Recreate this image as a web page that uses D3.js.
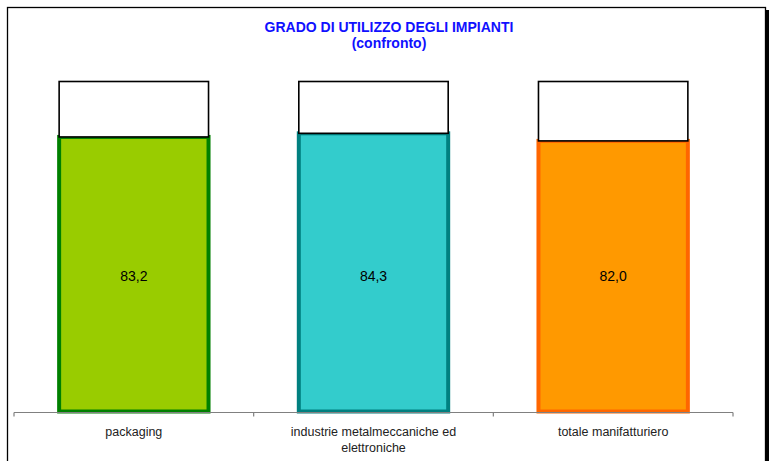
<!DOCTYPE html>
<html>
<head>
<meta charset="utf-8">
<script src="https://cdn.jsdelivr.net/npm/d3@7"></script>
<style>
  body { margin: 0; background: #fff; }
  svg { display: block; font-family: Arial, "Liberation Sans", sans-serif; }
</style>
</head>
<body>
<div class="main"></div>
<script>
// dati del grafico
var categories = ['packaging', 'industrie metalmeccaniche ed elettroniche', 'totale manifatturiero'];
var labelLines = [['packaging'], ['industrie metalmeccaniche ed', 'elettroniche'], ['totale manifatturiero']];
var values     = [83.2, 84.3, 82.0];
var fills      = ['#99CC00', '#33CCCC', '#FF9900'];
var borders    = ['#008000', '#008080', '#FF6600'];
var titleLines = ['GRADO DI UTILIZZO DEGLI IMPIANTI', '(confronto)'];

var width = 769, height = 461;

var svg = d3.select('.main')
            .append('svg')
                .attr('width', width)
                .attr('height', height);

// cornice esterna con ombra a destra
svg.append('rect')
    .attr('x', 766).attr('y', 10)
    .attr('width', 3).attr('height', height)
    .attr('fill', '#000');
svg.append('rect')
    .attr('x', 7.5).attr('y', 7.5)
    .attr('width', 758).attr('height', height)
    .attr('fill', '#fff')
    .attr('stroke', '#000')
    .attr('stroke-width', 1.3);

// scale
var x = d3.scaleBand().domain(categories).range([14, 733]).paddingInner(0.36).paddingOuter(0.18);
var y = d3.scaleLinear().domain([0, 100]).range([411.5, 81.5]);

// titolo
svg.append('g').selectAll('text')
    .data(titleLines)
    .enter().append('text')
        .attr('x', 389)
        .attr('y', (d, i) => 32 + i * 16)
        .attr('text-anchor', 'middle')
        .attr('font-size', 14)
        .attr('font-weight', 'bold')
        .attr('fill', '#1010FF')
        .text(d => d);

// barre colorate
var bars = svg.append('g');
bars.selectAll('rect.val')
    .data(values)
    .enter().append('rect')
        .attr('class', 'val')
        .attr('x', (d, i) => x(categories[i]) + 2)
        .attr('y', d => y(d))
        .attr('width', x.bandwidth() - 4)
        .attr('height', d => y(0) - y(d))
        .attr('fill', (d, i) => fills[i])
        .attr('stroke', (d, i) => borders[i])
        .attr('stroke-width', 4);

// parte restante fino a 100
bars.selectAll('rect.rest')
    .data(values)
    .enter().append('rect')
        .attr('class', 'rest')
        .attr('x', (d, i) => x(categories[i]) + 2)
        .attr('y', y(100))
        .attr('width', x.bandwidth() - 4)
        .attr('height', d => y(d) - y(100))
        .attr('fill', '#fff')
        .attr('stroke', '#000')
        .attr('stroke-width', 1.6);

// etichette dei valori (tutte alla stessa altezza)
var labelY = y(d3.min(values) / 2) + 5;
bars.selectAll('text')
    .data(values)
    .enter().append('text')
        .attr('x', (d, i) => x(categories[i]) + x.bandwidth() / 2)
        .attr('y', labelY)
        .attr('text-anchor', 'middle')
        .attr('font-size', 14)
        .attr('fill', '#000')
        .text(d => d.toFixed(1).replace('.', ','));

// asse x
var xAxis = svg.append('g')
    .attr('transform', 'translate(0,412.5)');
xAxis.append('line')
    .attr('x1', 14).attr('x2', 733)
    .attr('stroke', '#808080').attr('stroke-width', 1.2);
var tickPos = categories.map(c => x(c) - x.step() * x.paddingInner() / 2);
tickPos.push(733);
xAxis.selectAll('line.tick')
    .data(tickPos)
    .enter().append('line')
        .attr('class', 'tick')
        .attr('x1', d => d).attr('x2', d => d)
        .attr('y1', 0).attr('y2', 4)
        .attr('stroke', '#808080').attr('stroke-width', 1.2);

var catLabels = xAxis.selectAll('text')
    .data(labelLines)
    .enter().append('text')
        .attr('text-anchor', 'middle')
        .attr('font-size', 12.5)
        .attr('fill', '#222');
catLabels.each(function(lines, i) {
    var cx = x(categories[i]) + x.bandwidth() / 2;
    d3.select(this).selectAll('tspan')
        .data(lines)
        .enter().append('tspan')
            .attr('x', cx)
            .attr('y', (d, j) => 23.5 + j * 16)
            .text(d => d);
});
</script>
</body>
</html>
